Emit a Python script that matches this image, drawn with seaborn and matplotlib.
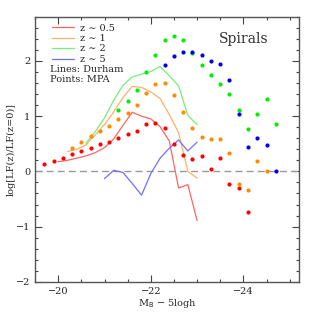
import numpy as np
import pandas as pd
import seaborn as sns
import matplotlib.pyplot as plt
from matplotlib.ticker import MultipleLocator
from matplotlib.lines import Line2D

# MPA points (Mb - 5logh, log ratio)
red_pts_x = [-19.7, -19.9, -20.1, -20.3, -20.5, -20.7, -20.9, -21.1, -21.3, -21.5, -21.7, -21.9,
             -22.1, -22.3, -22.5, -22.7, -22.9, -23.1, -23.3, -23.5, -23.7, -23.9, -24.1]
red_pts_y = [0.13, 0.18, 0.24, 0.31, 0.37, 0.43, 0.49, 0.54, 0.61, 0.68, 0.74, 0.86,
             0.88, 0.79, 0.50, 0.29, 0.23, 0.28, 0.04, 0.25, -0.23, -0.30, -0.73]

orange_pts_x = [-20.3, -20.5, -20.7, -20.9, -21.1, -21.3, -21.5, -21.7, -21.9, -22.1, -22.3,
                -22.5, -22.7, -22.9, -23.1, -23.3, -23.5, -23.7, -23.9, -24.1, -24.3, -24.5]
orange_pts_y = [0.43, 0.54, 0.65, 0.73, 0.83, 0.94, 1.06, 1.20, 1.42, 1.58, 1.60,
                1.38, 1.07, 0.79, 0.63, 0.59, 0.59, 0.34, -0.22, -0.34, 0.18, 0.0]

green_pts_x = [-21.3, -21.5, -21.7, -21.9, -22.1, -22.3, -22.5, -22.7, -22.9, -23.1, -23.3,
               -23.5, -23.7, -23.9, -24.1, -24.3, -24.5, -24.7]
green_pts_y = [1.12, 1.28, 1.47, 1.80, 2.11, 2.38, 2.46, 2.37, 2.15, 1.92, 1.74,
               1.58, 1.40, 1.12, 0.76, 1.04, 1.31, 0.85]

blue_pts_x = [-22.3, -22.5, -22.7, -22.9, -23.1, -23.3, -23.5, -23.7, -23.9, -24.1, -24.3,
              -24.5, -24.7]
blue_pts_y = [1.93, 2.09, 2.17, 2.17, 2.11, 2.00, 1.94, 1.65, 1.04, 0.44, 0.60, 0.48, 0.0]

# Durham model lines
red_line_x = [-20.0, -20.2, -20.4, -20.6, -20.8, -21.0, -21.2, -21.4, -21.6, -21.8, -22.0,
              -22.2, -22.4, -22.6, -22.8, -23.0]
red_line_y = [0.175, 0.20, 0.24, 0.28, 0.34, 0.43, 0.59, 0.835, 1.07, 1.00, 0.95,
              0.81, 0.55, -0.30, -0.24, -0.89]

orange_line_x = [-20.2, -20.4, -20.6, -20.8, -21.0, -21.2, -21.4, -21.6, -21.8, -22.0,
                 -22.2, -22.4, -22.6, -22.8, -23.0]
orange_line_y = [0.36, 0.40, 0.48, 0.66, 0.85, 1.08, 1.34, 1.54, 1.52, 1.44,
                 1.32, 1.03, 0.70, 0.0, -0.12]

green_line_x = [-20.6, -20.8, -21.0, -21.2, -21.4, -21.6, -21.8, -22.0, -22.2, -22.4,
                -22.6, -22.8, -23.0]
green_line_y = [0.51, 0.72, 0.97, 1.29, 1.56, 1.71, 1.76, 1.81, 1.90, 1.73,
                1.55, 1.01, 0.85]

blue_line_x = [-21.0, -21.2, -21.4, -21.6, -21.8, -22.0, -22.2, -22.4, -22.6, -22.8, -23.0]
blue_line_y = [-0.13, 0.02, -0.02, -0.22, -0.43, -0.04, 0.24, 0.42, 0.57, 0.37, 0.53]

labels = ["z ∼ 0.5", "z ∼ 1", "z ∼ 2", "z ∼ 5"]
line_colors = ["#ff6464", "#ffb066", "#77ee77", "#7070ff"]
point_colors = ["#ff0000", "#ff8c00", "#00ee00", "#0000ee"]

sns.set_style("ticks")
plt.rcParams['font.family'] = ['DejaVu Serif']

fig = plt.figure(figsize=(3.16, 3.16), dpi=100)
ax = fig.add_axes([0.111, 0.108, 0.835, 0.839])

lines = [(red_line_x, red_line_y), (orange_line_x, orange_line_y),
         (green_line_x, green_line_y), (blue_line_x, blue_line_y)]
points = [(red_pts_x, red_pts_y), (orange_pts_x, orange_pts_y),
          (green_pts_x, green_pts_y), (blue_pts_x, blue_pts_y)]

ax.axhline(0, color="#999999", lw=1.0, ls=(0, (5, 3)), zorder=1)

for (lx, ly), c in zip(lines, line_colors):
    sns.lineplot(x=lx, y=ly, color=c, lw=0.9, sort=False, ax=ax, zorder=2)
for (px, py), c in zip(points, point_colors):
    sns.scatterplot(x=px, y=py, color=c, s=9, linewidth=0, ax=ax, zorder=3)

ax.set_xlim(-19.5, -25.2)
ax.set_ylim(-2, 2.8)
ax.xaxis.set_major_locator(MultipleLocator(2))
ax.xaxis.set_minor_locator(MultipleLocator(0.5))
ax.yaxis.set_major_locator(MultipleLocator(1))
ax.yaxis.set_minor_locator(MultipleLocator(0.2))
ax.tick_params(which="both", direction="in", top=True, right=True, colors="#444444",
               labelcolor="#222222", labelsize=7, width=0.8)
ax.tick_params(which="major", length=5)
ax.tick_params(which="minor", length=2.5)
for sp in ax.spines.values():
    sp.set_color("#555555")
    sp.set_linewidth(1.0)

ax.set_xlabel("M$_{\\rm B}$ − 5logh", fontsize=7, labelpad=1)
ax.set_ylabel("log[LF(z)/LF(z=0)]", fontsize=7, labelpad=0)

handles = [Line2D([0], [0], color=c, lw=0.9) for c in line_colors]
leg = ax.legend(handles, labels, loc="upper left", frameon=False, fontsize=7,
                handlelength=2.2, handletextpad=0.6, labelspacing=0.15,
                borderaxespad=0.3, bbox_to_anchor=(0.04, 1.0))
ax.text(0.057, 0.80, "Lines: Durham", transform=ax.transAxes, fontsize=7, va="center")
ax.text(0.057, 0.762, "Points: MPA", transform=ax.transAxes, fontsize=7, va="center")
ax.text(0.886, 0.916, "Spirals", transform=ax.transAxes, fontsize=10, ha="right",
        va="center", color="#333333")

fig.savefig("out.png", dpi=100)
